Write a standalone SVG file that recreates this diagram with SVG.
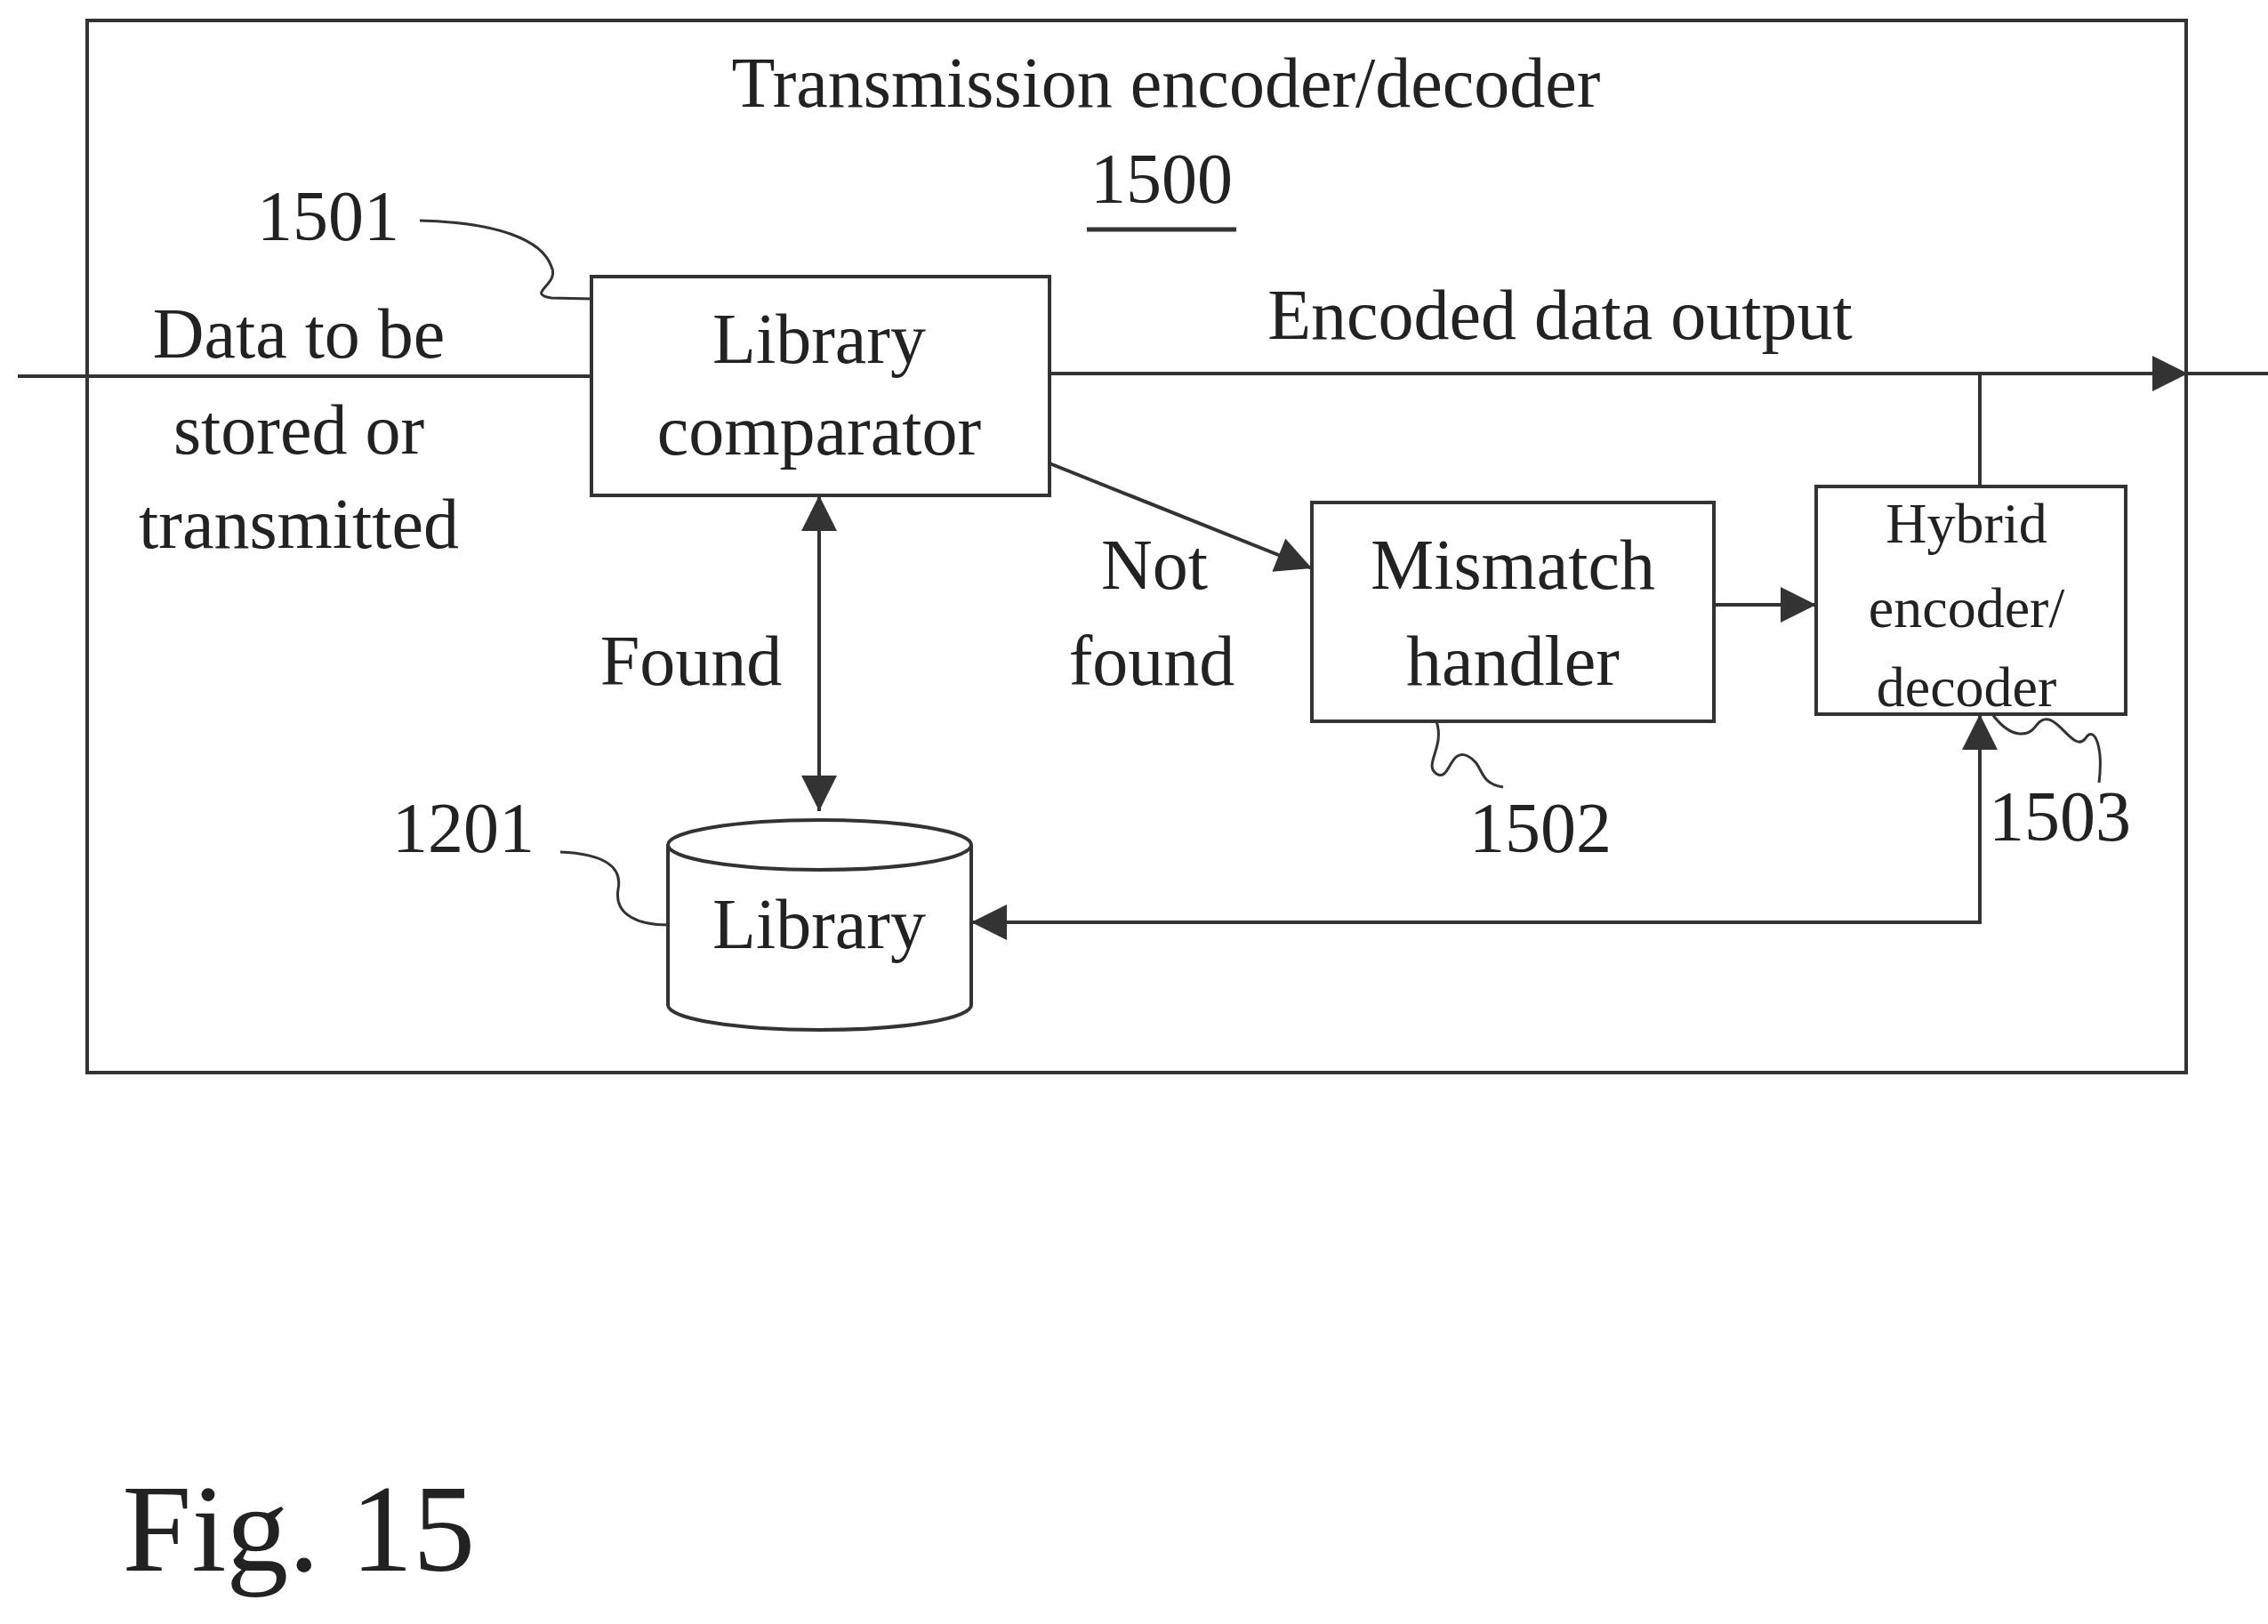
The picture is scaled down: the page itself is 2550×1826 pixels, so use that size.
<svg xmlns="http://www.w3.org/2000/svg" width="2550" height="1826" viewBox="0 0 2550 1826">
<style>
text{font-family:"Liberation Serif","DejaVu Serif",serif;fill:#222;text-anchor:middle}
.t{font-size:80px}
.s{font-size:64px}
.box{fill:#fff;stroke:#333;stroke-width:4}
.ln{fill:none;stroke:#333;stroke-width:4}
.lead{fill:none;stroke:#333;stroke-width:3}
</style>
<defs>
<marker id="b" viewBox="0 0 10 10" refX="10" refY="5" markerWidth="52" markerHeight="40" markerUnits="userSpaceOnUse" orient="auto-start-reverse"><path d="M0,0 L10,5 L0,10 z" fill="#333"/></marker>
</defs>
<rect width="2550" height="1826" fill="#fff"/>
<rect x="98" y="23" width="2360" height="1183" class="box"/>
<text class="t" x="1311" y="120">Transmission encoder/decoder</text>
<text class="t" x="1306" y="228">1500</text>
<line x1="1222" y1="258" x2="1390" y2="258" stroke="#333" stroke-width="5"/>
<g id="connectors">
<line x1="20" y1="423" x2="665" y2="423" class="ln"/>
<line x1="1180" y1="420" x2="2460" y2="420" class="ln" marker-end="url(#b)"/>
<line x1="2460" y1="420" x2="2550" y2="420" class="ln"/>
<line x1="2226" y1="547" x2="2226" y2="420" class="ln"/>
<line x1="1180" y1="521" x2="1475" y2="639" class="ln" marker-end="url(#b)"/>
<line x1="1927" y1="680" x2="2042" y2="680" class="ln" marker-end="url(#b)"/>
<line x1="921" y1="557" x2="921" y2="912" class="ln" marker-start="url(#b)" marker-end="url(#b)"/>
<path d="M1092,1037 L2226,1037 L2226,803" class="ln" marker-start="url(#b)" marker-end="url(#b)"/>
</g>
<g id="comparator"><rect x="665" y="311" width="515" height="246" class="box"/>
<text class="t" x="921" y="408">Library</text><text class="t" x="921" y="511">comparator</text></g>
<g id="mismatch"><rect x="1475" y="565" width="452" height="246" class="box"/>
<text class="t" x="1701" y="662">Mismatch</text><text class="t" x="1701" y="770">handler</text></g>
<g id="hybrid"><rect x="2042" y="547" width="348" height="256" class="box"/>
<text class="s" x="2211" y="610">Hybrid</text><text class="s" x="2211" y="705">encoder/</text><text class="s" x="2211" y="794">decoder</text></g>
<g id="library"><path d="M751,950 L751,1130 A170.5,28 0 0 0 1092,1130 L1092,950" class="box"/>
<ellipse cx="921.5" cy="950" rx="170.5" ry="28" class="box"/>
<text class="t" x="921" y="1066">Library</text></g>
<text class="t" x="336" y="402">Data to be</text>
<text class="t" x="336" y="510">stored or</text>
<text class="t" x="336" y="616">transmitted</text>
<text class="t" x="1754" y="381">Encoded data output</text>
<text class="t" x="777" y="770">Found</text>
<text class="t" x="1298" y="662">Not</text>
<text class="t" x="1295" y="770">found</text>
<text class="t" x="369" y="270">1501</text>
<path d="M472,248 C560,250 610,270 620,300 C630,320 590,330 620,335 L665,336" class="lead"/>
<text class="t" x="1732" y="958">1502</text>
<path d="M1615,811 C1625,840 1600,860 1615,870 C1630,880 1630,840 1650,850 C1670,860 1660,880 1690,885" class="lead"/>
<text class="t" x="521" y="958">1201</text>
<path d="M630,958 C680,960 700,975 695,1000 C690,1030 720,1040 751,1040" class="lead"/>
<text class="t" x="2316" y="945">1503</text>
<path d="M2240,803 C2260,830 2280,830 2290,815 C2310,790 2330,850 2345,830 C2355,815 2365,840 2360,880" class="lead"/>
<text x="336" y="1766" style="font-size:140px">Fig. 15</text>
</svg>
